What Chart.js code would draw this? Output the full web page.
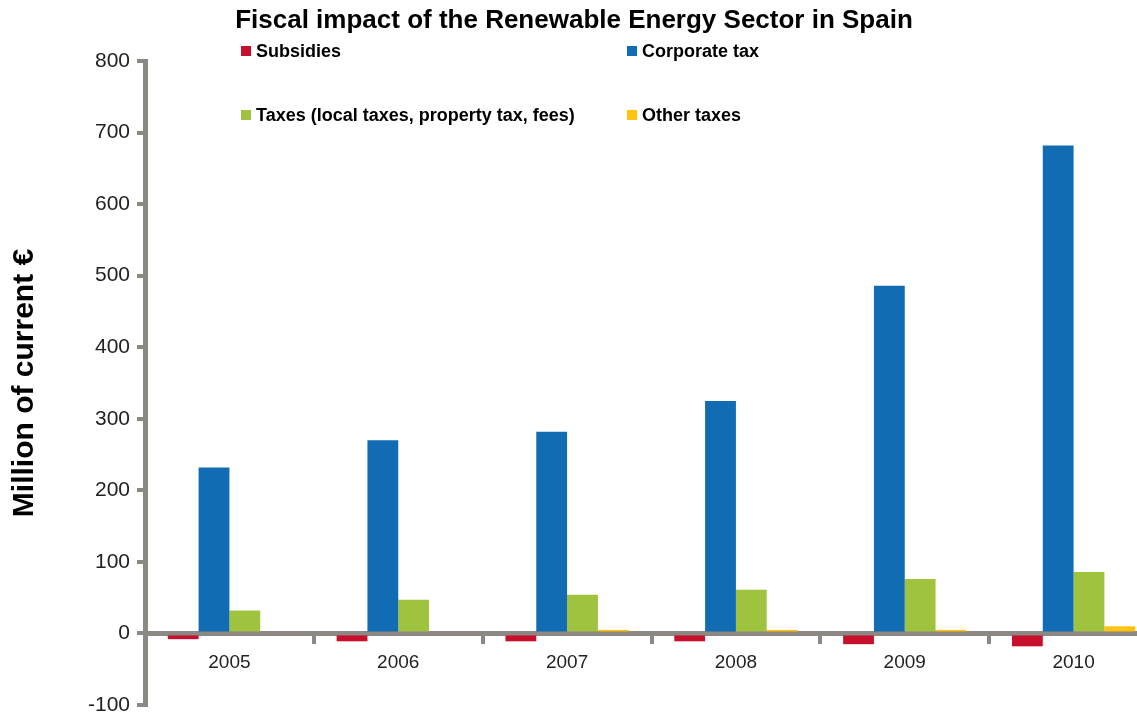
<!DOCTYPE html>
<html>
<head>
<meta charset="utf-8">
<script src="https://cdn.jsdelivr.net/npm/chart.js@4.4.0/dist/chart.umd.min.js"></script>
<style>
  html, body { margin: 0; padding: 0; background: #fff; overflow: hidden; }
  #wrap { width: 1160px; height: 719px; }
</style>
</head>
<body>
<div id="wrap"><canvas id="fiscalChart" width="1160" height="719"></canvas></div>
<script>
// million of current euros, per year
const years = ['2005', '2006', '2007', '2008', '2009', '2010']
const subsidies = [-8, -11, -11, -11, -15, -18]
const corporateTax = [232, 270, 282, 325, 486, 682]
const localTaxes = [32, 47, 54, 61, 76, 86]
const otherTaxes = [0, 0, 5, 5, 5, 10]
const yTicks = [-100, 0, 100, 200, 300, 400, 500, 600, 700, 800]

const AXIS_GREY = '#8c8985'
const FONT = '"Liberation Sans", Arial, sans-serif'

// title and 2x2 legend are drawn by hand, on top of the plot
const headerPlugin = {
  id: 'header',
  afterDraw(chart) {
    const ctx = chart.ctx
    ctx.save()
    ctx.fillStyle = '#000'
    ctx.textAlign = 'center'
    ctx.textBaseline = 'middle'
    ctx.font = 'bold 26px ' + FONT
    ctx.fillText('Fiscal impact of the Renewable Energy Sector in Spain', 574, 21)

    const slots = [[241, 51], [627, 51], [241, 115], [627, 115]]
    ctx.textAlign = 'left'
    ctx.font = 'bold 18px ' + FONT
    chart.data.datasets.forEach((ds, i) => {
      const [x, y] = slots[i]
      ctx.fillStyle = ds.backgroundColor
      ctx.fillRect(x, y - 5, 10, 10)
      ctx.fillStyle = '#000'
      ctx.fillText(ds.label, x + 15, y + 1)
    })
    ctx.restore()
  },
}

const ctx = document.getElementById('fiscalChart').getContext('2d')
new Chart(ctx, {
  type: 'bar',
  data: {
    labels: years,
    datasets: [
      { label: 'Subsidies', data: subsidies, backgroundColor: '#c8102e' },
      { label: 'Corporate tax', data: corporateTax, backgroundColor: '#116cb3' },
      { label: 'Taxes (local taxes, property tax, fees)', data: localTaxes, backgroundColor: '#9fc23f' },
      { label: 'Other taxes', data: otherTaxes, backgroundColor: '#ffc20e' },
    ],
  },
  options: {
    responsive: false,
    animation: false,
    layout: { padding: { top: 61, right: 2, bottom: 14, left: 0 } },
    datasets: { bar: { categoryPercentage: 0.73, barPercentage: 1.0 } },
    plugins: {
      legend: { display: false },
      title: { display: false },
      tooltip: { enabled: false },
    },
    scales: {
      x: {
        position: { y: 0 },
        z: 1,
        afterFit: (scale) => {
          scale.height = 14
          scale.paddingLeft = 0
          scale.paddingRight = 0
        },
        border: { display: true, color: AXIS_GREY, width: 5 },
        grid: {
          drawOnChartArea: false,
          drawTicks: true,
          tickLength: 8,
          lineWidth: 4,
          color: AXIS_GREY,
        },
        ticks: { color: '#222', padding: 10, font: { family: FONT, size: 19 } },
      },
      y: {
        min: -100,
        max: 800,
        afterFit: (scale) => {
          scale.width = 145
          scale.paddingTop = 0
          scale.paddingBottom = 0
        },
        afterBuildTicks: (scale) => { scale.ticks = yTicks.map((v) => ({ value: v })) },
        border: { display: true, color: AXIS_GREY, width: 5 },
        grid: {
          drawOnChartArea: false,
          drawTicks: true,
          tickLength: 8,
          lineWidth: 4,
          color: AXIS_GREY,
        },
        ticks: { color: '#222', padding: 7, font: { family: FONT, size: 21 } },
        title: {
          display: true,
          text: 'Million of current €',
          color: '#000',
          padding: { top: 7, bottom: 0 },
          font: { family: FONT, size: 30, weight: 'bold' },
        },
      },
    },
  },
  plugins: [headerPlugin],
})
</script>
</body>
</html>
